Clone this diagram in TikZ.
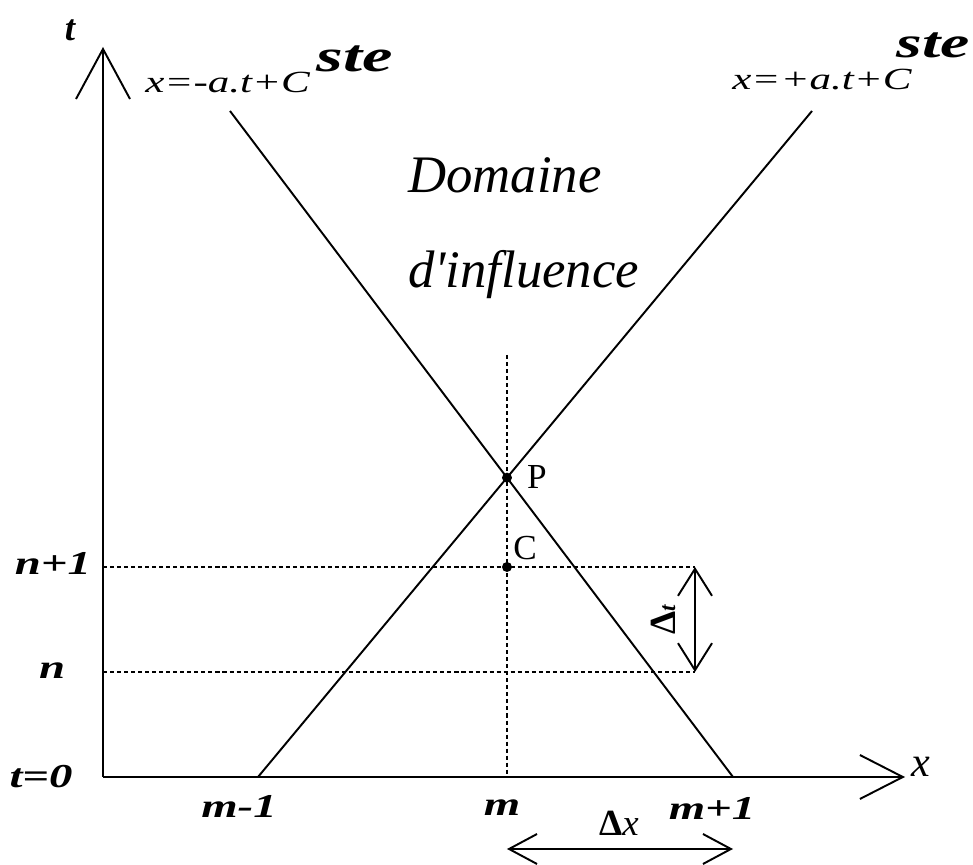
\documentclass[tikz,border=0pt]{standalone}
\usepackage{fontspec}
\setmainfont{Liberation Serif}
\newfontfamily\widefont[FakeStretch=1.4]{Liberation Serif}
\newfontfamily\widerfont[FakeStretch=1.5]{Liberation Serif}
\usetikzlibrary{arrows.meta}

\begin{document}
\begin{tikzpicture}[scale=1,
  axis/.style={line width=1.1pt},
  charline/.style={line width=1.1pt},
  gridline/.style={line width=0.9pt, dash pattern=on 2.3pt off 1.7pt},
  lab/.style={font=\fontsize{19}{22}\widefont\bfseries\itshape},
  pt/.style={font=\fontsize{20}{24}\selectfont}]

\useasboundingbox (0,0) rectangle (19.46,17.30);

\coordinate (O) at (2.06,1.76);
\coordinate (tend) at (2.06,16.36);
\coordinate (xend) at (18.10,1.76);

\coordinate (La) at (4.60,15.08);
\coordinate (Lb) at (14.66,1.76);
\coordinate (Ra) at (5.16,1.76);
\coordinate (Rb) at (16.24,15.08);
\coordinate (P) at (intersection of La--Lb and Ra--Rb);

\coordinate (mtop) at (P |- 0,10.20);
\coordinate (mbot) at (P |- O);
\coordinate (n1a) at (2.06,5.96);
\coordinate (n1b) at (13.90,5.96);
\coordinate (na) at (2.06,3.86);
\coordinate (nb) at (13.90,3.86);
\coordinate (C) at (P |- n1a);
\coordinate (dxa) at (P |- 0,0.32);
\coordinate (dxb) at (14.66,0.32);

\draw [axis, -{Straight Barb[length=1cm,width=1.08cm]}] (O) -- (tend);
\draw [axis, -{Straight Barb[length=0.86cm,width=0.88cm]}] (O) -- (xend);

\draw [charline] (La) -- (Lb);
\draw [charline] (Ra) -- (Rb);

\draw [gridline] (mtop) -- (mbot);
\draw [gridline] (n1a) -- (n1b);
\draw [gridline] (na) -- (nb);

\draw [axis, {Straight Barb[length=0.54cm,width=0.68cm]}-{Straight Barb[length=0.54cm,width=0.68cm]}] (n1b) -- (nb);
\draw [axis, {Straight Barb[length=0.56cm,width=0.6cm]}-{Straight Barb[length=0.56cm,width=0.6cm]}] (dxa) -- (dxb);

\fill (P) circle (0.1);
\fill (C) circle (0.1);

%%%%%%%%%%%%%%% labels

\node (tlab) at (1.40,16.70) {\fontsize{21}{24}\selectfont\bfseries\itshape t};
\node (xlab) at (18.42,1.96) {\fontsize{24}{28}\selectfont\itshape x};

\node [anchor=base west, inner sep=0] (eqL) at (2.90,15.44)
  {\fontsize{17.5}{21}\widefont\itshape x=-a.t+C\kern0.14cm\raisebox{0.42cm}{\fontsize{26}{30}\widerfont\bfseries\itshape ste}};
\node [anchor=base west, inner sep=0] (eqR) at (14.64,15.50)
  {\fontsize{17.5}{21}\widefont\itshape x=+a.t+C\kern-0.30cm\raisebox{0.64cm}{\fontsize{25}{30}\widerfont\bfseries\itshape ste}};

\node [anchor=base west] (dom) at (8.04,13.44) {\fontsize{30}{34}\selectfont\itshape Domaine};
\node [anchor=base west] (infl) at (8.04,11.54) {\fontsize{30}{34}\selectfont\itshape d\textquotesingle influence};

\node [pt] (Plab) at (10.74,7.76) {P};
\node [pt] (Clab) at (10.50,6.34) {C};

\node [lab] (n1lab) at (1.06,6.04) {n+1};
\node [lab] (nlab) at (1.04,3.88) {n};
\node [lab] (t0lab) at (0.82,1.76) {t=0};
\node [lab] (m0lab) at (4.78,1.18) {m-1};
\node [lab] (mlab) at (10.04,1.14) {m};
\node [lab] (m1lab) at (14.24,1.14) {m+1};

\node (dx) at (12.38,0.84) {\fontsize{21}{24}\selectfont\bfseries Δ\mdseries\itshape x};
\node [rotate=90] (dt) at (13.26,4.90) {\fontsize{21}{24}\selectfont\bfseries Δ\fontsize{13}{15}\selectfont\itshape t};

\end{tikzpicture}
\end{document}
